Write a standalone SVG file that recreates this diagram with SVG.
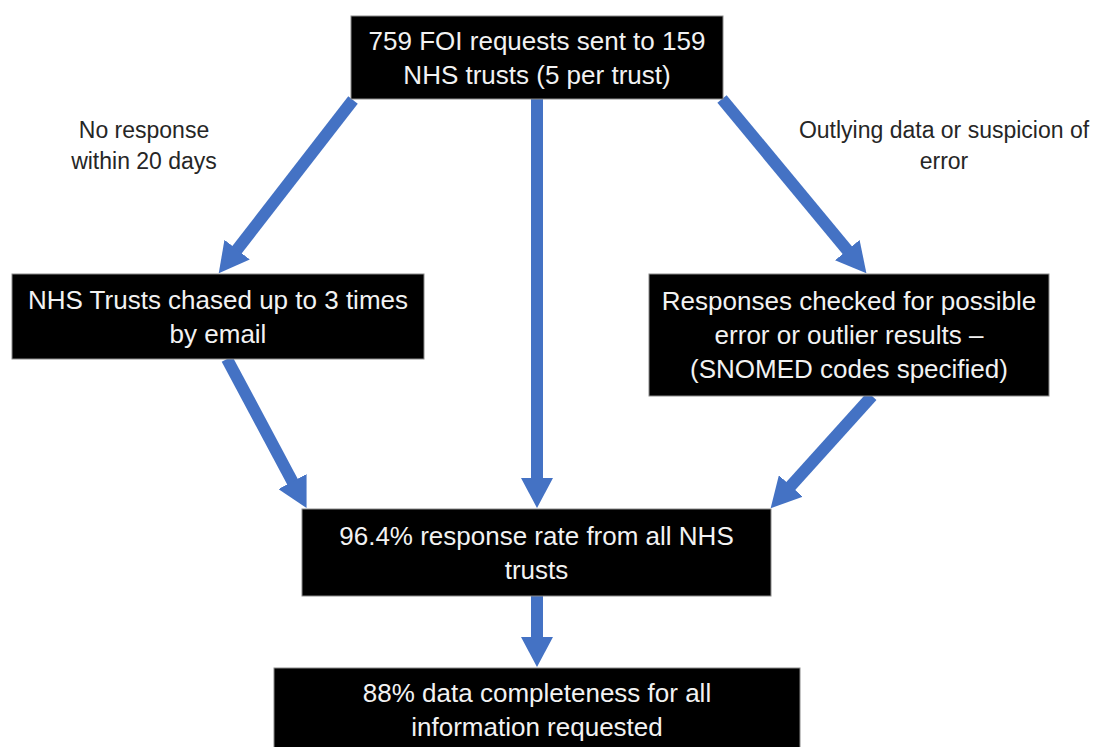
<svg xmlns="http://www.w3.org/2000/svg" width="1097" height="747" viewBox="0 0 1097 747">
<style>
.box{fill:#000;stroke:#8a8a8a;stroke-width:1}
.bt{font-family:"Liberation Sans",Arial,sans-serif;font-size:26px;fill:#f2f2f2;text-anchor:middle}
.lb{font-family:"Liberation Sans",Arial,sans-serif;font-size:23px;fill:#262626;text-anchor:middle}
.arr{stroke:#4472c4;stroke-width:12;fill:none;marker-end:url(#ah)}
</style>
<defs>
<marker id="ah" markerUnits="userSpaceOnUse" viewBox="0 -16 30 32" markerWidth="30" markerHeight="32" refX="1" refY="0" orient="auto">
<path d="M0,-16 L30,0 L0,16 z" fill="#4472c4"/>
</marker>
</defs>
<rect width="1097" height="747" fill="#fff"/>
<g id="connectors">
<line class="arr" x1="353" y1="100" x2="236.5" y2="250.4"/>
<line class="arr" x1="722" y1="99" x2="847.9" y2="250.9"/>
<line class="arr" x1="537" y1="99" x2="537" y2="479"/>
<line class="arr" x1="227" y1="359" x2="292.9" y2="482.5"/>
<line class="arr" x1="872" y1="396" x2="790.1" y2="486.7"/>
<line class="arr" x1="537" y1="596" x2="537" y2="638"/>
</g>
<g id="label-no-response">
<text class="lb" x="144" y="138">No response</text>
<text class="lb" x="144" y="169">within 20 days</text>
</g>
<g id="label-outlying">
<text class="lb" x="944" y="138">Outlying data or suspicion of</text>
<text class="lb" x="944" y="169">error</text>
</g>
<g id="node-foi">
<rect class="box" x="351" y="16" width="372" height="83"/>
<text class="bt" x="537" y="50">759 FOI requests sent to 159</text>
<text class="bt" x="537" y="84">NHS trusts (5 per trust)</text>
</g>
<g id="node-chased">
<rect class="box" x="12" y="274" width="412" height="85"/>
<text class="bt" x="218" y="308.5">NHS Trusts chased up to 3 times</text>
<text class="bt" x="218" y="342.5">by email</text>
</g>
<g id="node-checked">
<rect class="box" x="649" y="274" width="400" height="122"/>
<text class="bt" x="849" y="310">Responses checked for possible</text>
<text class="bt" x="849" y="344">error or outlier results –</text>
<text class="bt" x="849" y="378">(SNOMED codes specified)</text>
</g>
<g id="node-response-rate">
<rect class="box" x="302" y="509" width="469" height="87"/>
<text class="bt" x="536.5" y="545">96.4% response rate from all NHS</text>
<text class="bt" x="536.5" y="579">trusts</text>
</g>
<g id="node-completeness">
<rect class="box" x="274" y="668" width="526" height="90"/>
<text class="bt" x="537" y="702">88% data completeness for all</text>
<text class="bt" x="537" y="736">information requested</text>
</g>
</svg>
